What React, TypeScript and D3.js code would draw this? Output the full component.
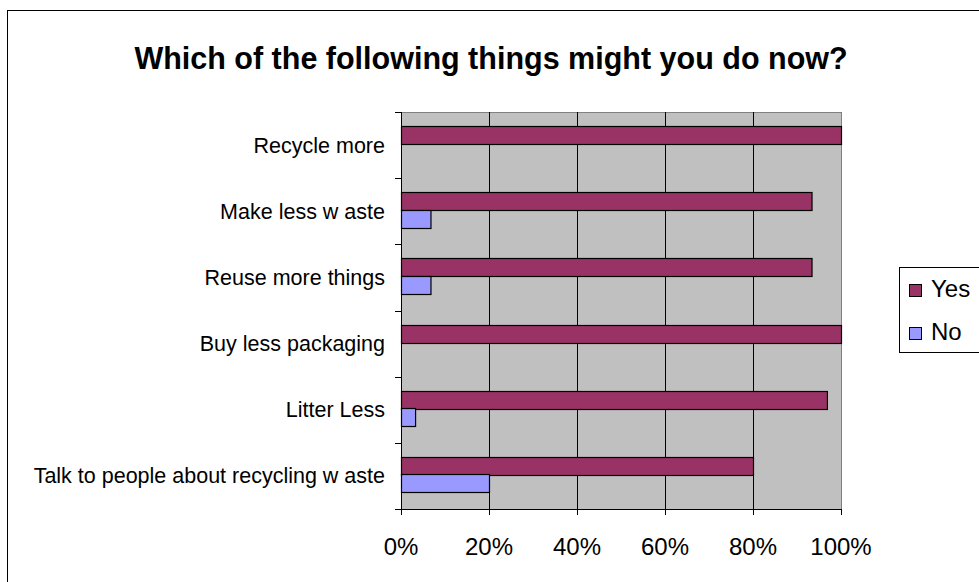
import React from "react";
import * as d3 from "d3";

const categories = [
  "Recycle more",
  "Make less w aste",
  "Reuse more things",
  "Buy less packaging",
  "Litter Less",
  "Talk to people about recycling w aste",
];
const yesValues = [100, 93.3, 93.3, 100, 96.8, 80];
const noValues = [0, 6.7, 6.7, 0, 3.2, 20];
const seriesNames = ["Yes", "No"];
const seriesColors = ["#993366", "#9999FF"];
const xTicks = [0, 20, 40, 60, 80, 100];
const title = "Which of the following things might you do now?";

export default function App() {
  const W = 979, H = 582;
  const left = 401, right = 841, top = 112, bottom = 509;
  const x = d3.scaleLinear().domain([0, 100]).range([left, right]);
  const y = d3.scaleBand<string>().domain(categories).range([top, bottom]);
  const inner = d3.scaleBand<string>().domain(seriesNames).range([0, y.bandwidth()])
    .paddingInner(0).paddingOuter(0.89).align(0.45);
  const font = "'Liberation Sans', Arial, sans-serif";
  const series = [yesValues, noValues];

  return (
    <svg width={W} height={H} style={{ position: "absolute", left: 0, top: 0 }} fontFamily={font}>
      <rect x={7.5} y={10.5} width={W} height={H} fill="#fff" stroke="#000" />
      <text x={491} y={69} textAnchor="middle" fontSize={30.5} fontWeight="bold">{title}</text>
      <rect x={left} y={top} width={right - left} height={bottom - top} fill="#C0C0C0" />
      <line x1={left} x2={right} y1={top + 0.5} y2={top + 0.5} stroke="#808080" />
      <line x1={right + 0.5} x2={right + 0.5} y1={top} y2={bottom} stroke="#808080" />
      {xTicks.filter(t => t > 0 && t < 100).map(t => (
        <line key={t} x1={Math.round(x(t)) + 0.5} x2={Math.round(x(t)) + 0.5} y1={top} y2={bottom} stroke="#000" />
      ))}
      {categories.map((c, i) => (
        <g key={c}>
          {series.map((vals, s) => vals[i] > 0 ? (
            <rect key={s}
              x={x(0) + 0.5}
              y={Math.round(y(c)! + inner(seriesNames[s])!) + 0.5}
              width={x(vals[i]) - x(0)}
              height={Math.round(inner.bandwidth())}
              fill={seriesColors[s]} stroke="#000" strokeWidth={1.2} />
          ) : null)}
          <text x={385} y={y(c)! + y.bandwidth() / 2 + 7.5} textAnchor="end" fontSize={21.5}>{c}</text>
        </g>
      ))}
      {/* y axis */}
      <line x1={left + 0.5} x2={left + 0.5} y1={top} y2={bottom} stroke="#000" />
      {[...categories.map(c => y(c)!), bottom].map((v, i) => (
        <line key={i} x1={left - 6} x2={left} y1={Math.round(v) + 0.5} y2={Math.round(v) + 0.5} stroke="#000" />
      ))}
      {/* x axis */}
      <line x1={left} x2={right + 1} y1={bottom + 0.5} y2={bottom + 0.5} stroke="#000" />
      {xTicks.map(t => (
        <g key={t}>
          <line x1={Math.round(x(t)) + 0.5} x2={Math.round(x(t)) + 0.5} y1={bottom} y2={bottom + 6} stroke="#000" />
          <text x={x(t)} y={555} textAnchor="middle" fontSize={24}>{t}%</text>
        </g>
      ))}
      {/* legend */}
      <rect x={899.5} y={267.5} width={100} height={85} fill="#fff" stroke="#000" />
      {seriesNames.map((n, i) => (
        <g key={n}>
          <rect x={909.5} y={284.5 + i * 43} width={12} height={12} fill={seriesColors[i]} stroke="#000" />
          <text x={931} y={297 + i * 43} fontSize={24}>{n}</text>
        </g>
      ))}
    </svg>
  );
}
